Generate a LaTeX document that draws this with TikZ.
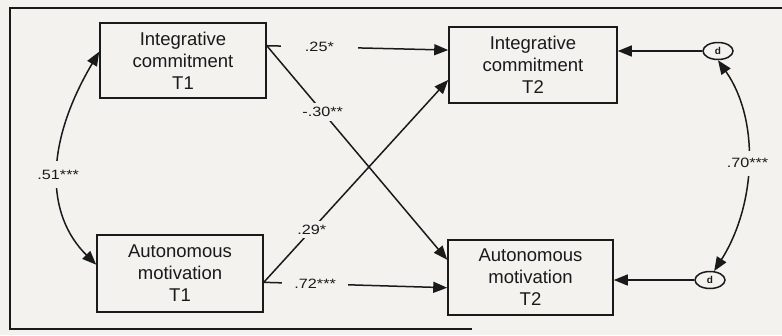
\documentclass[tikz,border=0pt]{standalone}
\usepackage{fontspec}
\setmainfont{Liberation Sans}
\newfontfamily\lblfont[FakeStretch=1.2]{Liberation Sans}
\usetikzlibrary{arrows.meta,shapes.geometric}
\definecolor{paper}{HTML}{F4F2EE}
\definecolor{ink}{HTML}{1A1A1A}
\tikzset{
  varbox/.style={draw=ink, line width=1.6pt, rectangle, align=center,
    font=\fontsize{18.5}{22}\selectfont, text=ink, inner sep=0pt},
  dist/.style={draw=ink, line width=1.5pt, ellipse, inner sep=0pt,
    minimum width=30pt, minimum height=17pt, font=\fontsize{10}{11}\selectfont\bfseries, text=ink},
  path/.style={draw=ink, line width=1.5pt, -{Triangle[length=14pt,width=11pt]}},
  cov/.style={draw=ink, line width=1.5pt, {Triangle[length=14pt,width=11pt]}-{Triangle[length=14pt,width=11pt]}},
  lbl/.style={fill=paper, text=ink, font=\lblfont\fontsize{13.5}{15}\selectfont, inner sep=3pt},
  frame/.style={draw=ink, line width=1.5pt}
}
\begin{document}
\begin{tikzpicture}[x=1pt,y=-1pt]
\fill[paper] (0,0) rectangle (782,335);
\useasboundingbox (0,0) rectangle (782,335);
\draw[frame] (782,8) -- (10,8) -- (10,329) -- (472,329);

\node[varbox, minimum width=166pt, minimum height=75pt] (ic1) at (183,60.5) {Integrative\\commitment\\T1};
\node[varbox, minimum width=166pt, minimum height=77pt] (am1) at (180,273.5) {Autonomous\\motivation\\T1};
\node[varbox, minimum width=168pt, minimum height=76pt] (ic2) at (533,65) {Integrative\\commitment\\T2};
\node[varbox, minimum width=165pt, minimum height=75pt] (am2) at (530.5,277.5) {Autonomous\\motivation\\T2};

\node[dist] (d1) at (718,51) {d};
\node[dist] (d2) at (710,280) {d};

\draw[path] (ic1.10) -- node[lbl, pos=0.29, inner xsep=24pt] {.25*} (ic2.170);
\draw[path] (ic1.10) -- node[lbl, pos=0.31, inner sep=4pt] {-.30**} (am2.168);
\draw[path] (am1.354) -- node[lbl, pos=0.26, inner sep=4pt] {.29*} (ic2.190);
\draw[path] (am1.354) -- node[lbl, pos=0.28, inner xsep=12pt] {.72***} (am2.187);

\draw[path] (d1.west) -- (ic2.east |- d1.west);
\draw[path] (d2.west) -- (am2.east |- d2.west);

\draw[cov] (ic1.174) .. controls (44,145) and (46,215) .. node[lbl, pos=0.5, inner ysep=9pt] {.51***} (am1.174);
\draw[cov] (d1.south) .. controls (760,120) and (756,205) .. node[lbl, pos=0.5, inner ysep=8pt] {.70***} (d2.65);
\end{tikzpicture}
\end{document}
